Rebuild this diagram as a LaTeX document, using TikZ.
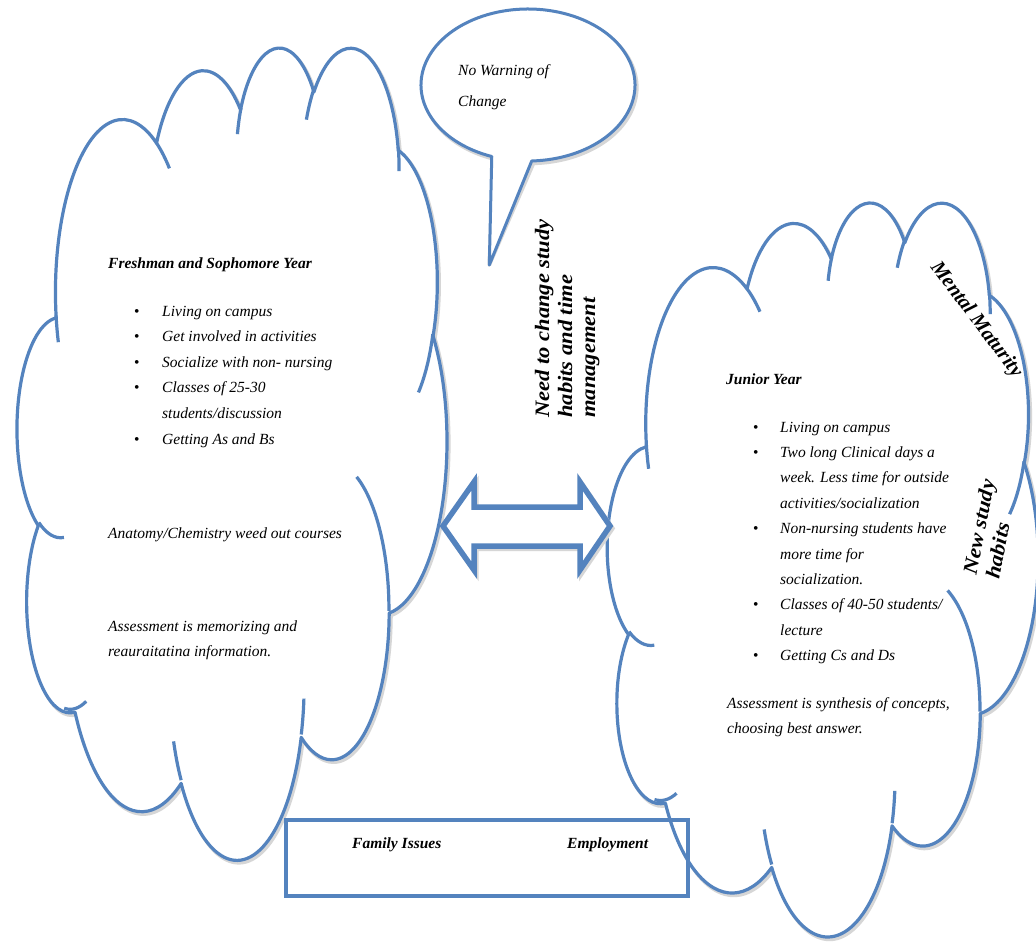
\documentclass[tikz,border=0pt]{standalone}
\usepackage{fontspec}
\setmainfont{Liberation Serif}
\definecolor{cblue}{RGB}{84,131,190}

\pgfmathdeclarefunction{visang}{3}{%
  \begingroup
  \pgfmathparse{atan2((#1)*sin(#3),(#2)*cos(#3))-(#3)}%
  \pgfmathparse{mod(mod(\pgfmathresult,360)+540,360)-180+(#3)}%
  \pgfmathsmuggle\pgfmathresult
  \endgroup}

\newcommand\ca[4]{arc[x radius=#1, y radius=#2, start angle={visang(#1,#2,#3)}, end angle={visang(#1,#2,#3+#4)}]}

\newcommand\cloudmain{(39.00,143.70)
  \ca{67.53}{91.90}{-190.4875}{123.7805}
  \ca{53.33}{72.67}{-144.1024}{89.9452}
  \ca{43.65}{59.45}{-145.8079}{99.7230}
  \ca{48.57}{65.95}{-130.9861}{117.2417}
  \ca{53.33}{72.73}{-78.7089}{109.0269}
  \ca{67.75}{92.20}{-46.2673}{130.2690}
  \ca{57.85}{78.67}{0.6250}{114.0333}
  \ca{67.52}{92.15}{22.4516}{115.1726}
  \ca{77.20}{105.43}{66.2426}{75.7110}
  \ca{43.60}{59.18}{-274.9421}{146.7356}
  \ca{43.45}{59.45}{-246.8285}{152.5189}
  -- cycle}

\newcommand\cloudinner{(46.93,261.77) \ca{43.45}{59.45}{86.7420}{26.4295}
  (69.28,348.99) \ca{43.60}{59.18}{73.6014}{22.1771}
  (164.78,390.90) \ca{67.52}{92.15}{137.6242}{16.7335}
  (288.27,347.51) \ca{67.52}{92.15}{6.4533}{15.9984}
  (341.29,229.54) \ca{57.85}{78.67}{-70.2924}{70.9174}
  (417.98,153.54) \ca{53.33}{72.73}{23.6514}{32.1081}
  (383.24,54.26) \ca{48.57}{65.95}{-13.7443}{14.8538}
  (290.78,39.52) \ca{48.57}{65.95}{-149.1815}{18.1959}
  (221.41,47.20) \ca{43.65}{59.45}{-163.4943}{17.6910}
  (140.00,51.92) \ca{67.53}{91.90}{-66.7070}{12.3194}
  (41.27,157.89) \ca{67.53}{91.90}{157.6544}{11.8582}}

\newcommand\cloudat[4]{%
  \begin{scope}[shift={(#1,#2)}, x=#3pt, y=-#4pt]
    \path[shade] \cloudmain;
    \path[outline, fill=white] \cloudmain;
    \path[outline] \cloudinner;
  \end{scope}}

\begin{document}
\begin{tikzpicture}[x=1pt, y=-1pt,
  outline/.style={draw=cblue, line width=3.2pt, line join=round},
  shade/.style={draw=black!16, line width=3.6pt, line join=round, xshift=1.8pt, yshift=-2.4pt},
  body/.style={font=\fontsize{15.5}{18}\selectfont\itshape, anchor=base west, inner sep=0pt},
  head/.style={font=\fontsize{15.5}{18}\selectfont\bfseries\itshape, anchor=base west, inner sep=0pt},
  blt/.style={font=\fontsize{15.5}{18}\selectfont, anchor=base west, inner sep=0pt},
  rot/.style={font=\fontsize{20.5}{23}\selectfont\bfseries\itshape, inner sep=0pt}]

\fill[white] (0,0) rectangle (1036,943);
\useasboundingbox (0,0) rectangle (1036,943);

% clouds
\cloudat{17.3}{45.4}{0.99421}{1.87963}
\cloudat{607.5}{200.6}{0.99653}{1.69838}

% speech bubble
\coordinate (btip) at (489.3,265);
\path[shade] (btip) -- ([shift={(109.8:107 and 76)}]528,85) arc[start angle=109.8, end angle=448, x radius=107, y radius=76] -- cycle;
\path[outline, line width=3pt, fill=white] (btip) -- ([shift={(109.8:107 and 76)}]528,85) arc[start angle=109.8, end angle=448, x radius=107, y radius=76] -- cycle;

% double arrow
\path[shade, line width=5.5pt, line join=miter] (443,526) -- (474,482) -- (474,507) -- (580,507) -- (580,482) -- (610,526) -- (580,570) -- (580,546) -- (474,546) -- (474,570) -- cycle;
\path[outline, line width=5.5pt, line join=miter, fill=white] (443,526) -- (474,482) -- (474,507) -- (580,507) -- (580,482) -- (610,526) -- (580,570) -- (580,546) -- (474,546) -- (474,570) -- cycle;

% bottom box
\draw[cblue, line width=4pt] (286,820) rectangle (688,896);

% bubble text
\node[body] (bw1) at (458,75) {No Warning of};
\node[body] (bw2) at (458,106) {Change};

% left cloud text
\node[head] (lt) at (108,268) {Freshman and Sophomore Year};
\node[blt] (lb1) at (134,316) {\textbullet};
\node[body] (l1) at (162,316) {Living on campus};
\node[blt] (lb2) at (134,341.6) {\textbullet};
\node[body] (l2) at (162,341.6) {Get involved in activities};
\node[blt] (lb3) at (134,367.2) {\textbullet};
\node[body] (l3) at (162,367.2) {Socialize with non- nursing};
\node[blt] (lb4) at (134,392.8) {\textbullet};
\node[body] (l4) at (162,392.8) {Classes of 25-30};
\node[body] (l5) at (162,418.4) {students/discussion};
\node[blt] (lb6) at (134,444) {\textbullet};
\node[body] (l6) at (162,444) {Getting As and Bs};
\node[body] (la) at (108,538) {Anatomy/Chemistry weed out courses};
\node[body] (lm1) at (108,631) {Assessment is memorizing and};
\node[body] (lm2) at (108,656.5) {reauraitatina information.};

% right cloud text
\node[head] (rt) at (726,384) {Junior Year};
\node[blt] (rb1) at (753,432) {\textbullet};
\node[body] (r1) at (780,432) {Living on campus};
\node[blt] (rb2) at (753,457.4) {\textbullet};
\node[body] (r2) at (780,457.4) {Two long Clinical days a};
\node[body] (r3) at (780,482.8) {week. Less time for outside};
\node[body] (r4) at (780,508.2) {activities/socialization};
\node[blt] (rb5) at (753,533.6) {\textbullet};
\node[body] (r5) at (780,533.6) {Non-nursing students have};
\node[body] (r6) at (780,559) {more time for};
\node[body] (r7) at (780,584.4) {socialization.};
\node[blt] (rb8) at (753,609.8) {\textbullet};
\node[body] (r8) at (780,609.8) {Classes of 40-50 students/};
\node[body] (r9) at (780,635.2) {lecture};
\node[blt] (rb10) at (753,660.6) {\textbullet};
\node[body] (r10) at (780,660.6) {Getting Cs and Ds};
\node[body] (rs1) at (727,708) {Assessment is synthesis of concepts,};
\node[body] (rs2) at (727,733) {choosing best answer.};

% rotated labels
\node[rot, rotate=90, xscale=1.1, anchor=base west] (n1) at (549,418) {Need to change study};
\node[rot, rotate=90, xscale=1.1, anchor=base west] (n2) at (572,418) {habits and time};
\node[rot, rotate=90, xscale=1.1, anchor=base west] (n3) at (595,418) {management};
\node[rot, rotate=-53] (mm) at (976,320) {Mental Maturity};
\node[rot, rotate=79, xscale=1.1, align=left] (ns) at (990,529) {New study\\habits};

% box text
\node[head] (fi) at (352,848) {Family Issues};
\node[head] (em) at (567,848) {Employment};
\end{tikzpicture}
\end{document}
